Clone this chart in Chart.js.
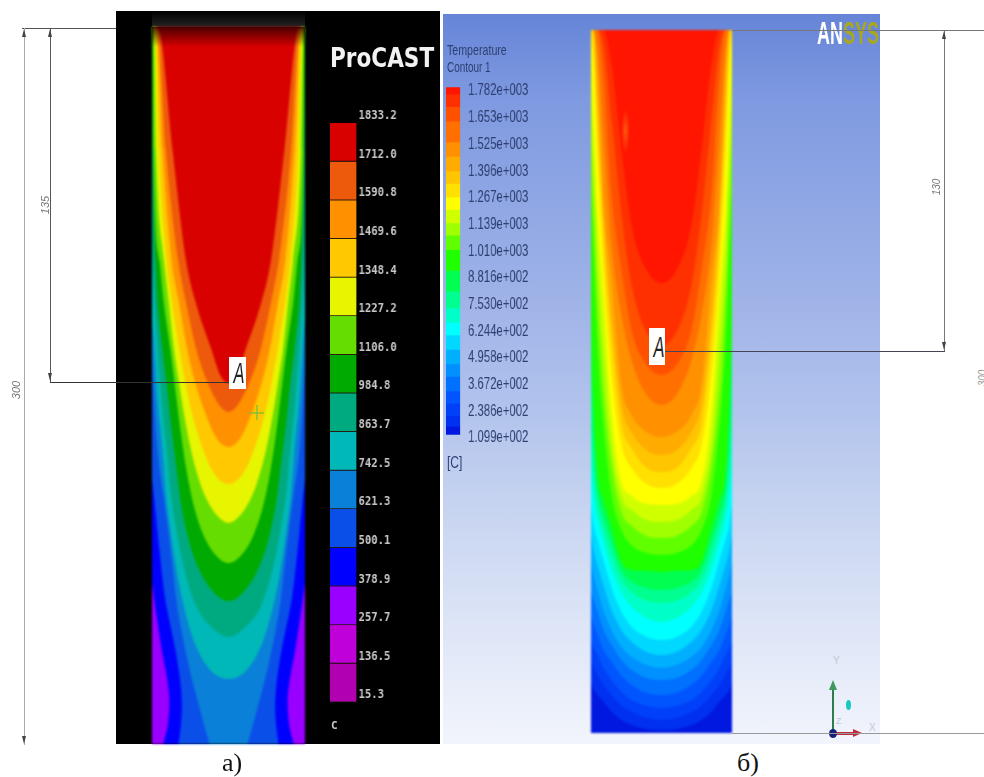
<!DOCTYPE html>
<html>
<head>
<meta charset="utf-8">
<title>ProCAST / ANSYS temperature fields</title>
<script src="https://cdn.jsdelivr.net/npm/chart.js@4"></script>
<style>
    html, body { margin: 0; padding: 0; background: #fff; overflow: hidden; }
    #page { position: relative; width: 984px; height: 777px; overflow: hidden; }
    #page > * { position: absolute; }
    canvas { display: block; }
    .rule { background: #555; }
    .txt { white-space: nowrap; line-height: 1; }
    .dim { font: italic 11px "Liberation Sans", sans-serif; color: #777; transform: translate(-50%, -50%) rotate(-90deg); }
    .ansys { font-family: "Liberation Sans", sans-serif; color: #2d3f70; transform: scaleX(0.71); transform-origin: 0 0; filter: blur(0.4px); }
    .cap { font: 26px "Liberation Serif", serif; color: #111; }
    .mark { background: #fff; color: #222; font: italic 30px "Liberation Sans", sans-serif; text-align: center; overflow: hidden; }
    .mark span { display: inline-block; transform: scaleX(0.55); }
    .up { width: 0; height: 0; border-left: 2px solid transparent; border-right: 2px solid transparent; border-bottom: 8px solid #444; }
    .down { width: 0; height: 0; border-left: 2px solid transparent; border-right: 2px solid transparent; border-top: 8px solid #444; }
</style>
</head>
<body>
<div id="page">
    <!-- panel a) -->
    <div style="left:116px;top:11px;width:324px;height:733px;background:#000"></div>
    <div style="left:152px;top:11px;width:153px;height:16px;background:linear-gradient(#000,#242424)"></div>
    <canvas id="procastField" style="left:152px;top:27px;filter:blur(0.8px)"></canvas>
    <div style="left:152px;top:27px;width:153px;height:20px;background:linear-gradient(rgba(50,0,0,0.85),rgba(120,0,0,0))"></div>
    <canvas id="procastLegend" style="left:330px;top:90.1px;transform:scaleX(0.85);transform-origin:0 0;filter:blur(0.4px)"></canvas>
    <div class="txt" style="left:330px;top:42px;font:bold 21.6px 'DejaVu Sans',sans-serif;color:#f2f2f2;transform:scaleY(1.25);transform-origin:0 0;filter:blur(0.5px)">ProCAST</div>
    <div class="txt" style="left:331px;top:719px;font:bold 11px 'DejaVu Sans Mono',monospace;color:#c8c8c8">C</div>

    <!-- panel б) -->
    <div style="left:443px;top:14px;width:437px;height:730px;background:linear-gradient(#6685d8 0%,#7f9ae0 12%,#9fb3e8 39%,#b0c2ec 53%,#c6d3f0 67%,#d8e1f5 80%,#f2f5fc 100%)"></div>
    <canvas id="ansysField" style="left:591px;top:30px;filter:blur(1.3px)"></canvas>
    <div style="left:621px;top:108px;width:9px;height:46px;background:radial-gradient(ellipse,rgba(255,130,20,0.6),rgba(255,110,0,0) 70%)"></div>
    <canvas id="ansysLegend" style="left:446px;top:49.4px;transform:scaleX(0.71);transform-origin:0 0;filter:blur(0.4px)"></canvas>
    <div class="txt ansys" style="left:447px;top:42px;font-size:15px">Temperature</div>
    <div class="txt ansys" style="left:447px;top:60px;font-size:14px">Contour 1</div>
    <div class="txt ansys" style="left:447px;top:454px;font-size:17px">[C]</div>
    <div class="txt" style="left:817px;top:16px;font:bold 31px 'Liberation Sans',sans-serif;transform:scaleX(0.58);transform-origin:0 0;filter:blur(0.5px)"><span style="color:#fff">AN</span><span style="color:#a8a820">SYS</span></div>

    <!-- triad -->
    <div style="left:832px;top:688px;width:2px;height:45px;background:#2f7d4a"></div>
    <div style="left:829px;top:680px;width:0;height:0;border-left:4px solid transparent;border-right:4px solid transparent;border-bottom:10px solid #3d9a5a"></div>
    <div style="left:833px;top:732px;width:22px;height:3px;background:#c02a3a"></div>
    <div style="left:853px;top:729px;width:0;height:0;border-top:4px solid transparent;border-bottom:4px solid transparent;border-left:9px solid #c02a3a"></div>
    <div style="left:829px;top:729px;width:8px;height:9px;border-radius:50%;background:#12207a"></div>
    <div style="left:846px;top:700px;width:5px;height:10px;border-radius:50%;background:#18c8c0"></div>
    <div class="txt" style="left:833px;top:655px;font:10px 'Liberation Sans',sans-serif;color:#c4c8d4">Y</div>
    <div class="txt" style="left:869px;top:722px;font:10px 'Liberation Sans',sans-serif;color:#c4c8d4">X</div>
    <div class="txt" style="left:836px;top:716px;font:9px 'Liberation Sans',sans-serif;color:#c4c8d4">Z</div>

    <!-- dimension lines a) -->
    <div class="rule" style="left:22px;top:28px;width:94px;height:1px"></div>
    <div class="rule" style="left:24px;top:28px;width:1px;height:717px;background:#aaa"></div>
    <div class="rule" style="left:50px;top:28px;width:1px;height:354px"></div>
    <div class="rule" style="left:50px;top:382px;width:179px;height:1px;background:#333"></div>
    <div class="up" style="left:22px;top:29px"></div>
    <div class="up" style="left:48px;top:29px"></div>
    <div class="down" style="left:48px;top:373px"></div>
    <div class="down" style="left:22px;top:736px"></div>
    <div class="txt dim" style="left:45px;top:205px">135</div>
    <div class="txt dim" style="left:16px;top:390px">300</div>
    <div class="mark" style="left:229px;top:357px;width:17px;height:32px;line-height:32px"><span>A</span></div>
    <div style="left:256px;top:405px;width:1.5px;height:15px;background:rgba(130,190,60,0.7)"></div>
    <div style="left:249px;top:412px;width:15px;height:1.5px;background:rgba(130,190,60,0.7)"></div>
    <div class="txt cap" style="left:222px;top:748px">а)</div>

    <!-- dimension lines б) -->
    <div class="rule" style="left:732px;top:30px;width:252px;height:1px;background:#777"></div>
    <div class="rule" style="left:732px;top:733px;width:252px;height:1px;background:#999"></div>
    <div class="rule" style="left:944px;top:30px;width:1px;height:321px;background:#777"></div>
    <div class="rule" style="left:664px;top:351px;width:281px;height:1px;background:#445"></div>
    <div class="up" style="left:942px;top:31px"></div>
    <div class="down" style="left:942px;top:342px"></div>
    <div class="txt dim" style="left:936px;top:187px;font-size:10px">130</div>
    <div class="txt dim" style="left:982px;top:378px;font-size:10px;color:#999">300</div>
    <div class="mark" style="left:649px;top:328px;width:16px;height:37px;line-height:37px"><span>A</span></div>
    <div class="txt cap" style="left:737px;top:748px">б)</div>
</div>

<script>
// --- panel a) ProCAST: isotherms as [half-width mm, depth mm], hottest first
const procast1712 = [[0,149],[3.3,146],[7.1,135],[14,114.2],[17.8,97.5],[23.4,51.5],[28.9,1.3],[30.1,0]];
const procast1590 = [[0,161],[4.2,157.7],[9.2,147.7],[13.4,135.1],[18,114.2],[21.1,97.5],[26.2,51.5],[29.5,1.3],[30.5,0]];
const procast1469 = [[0,175.7],[5,172],[10,160.7],[14.2,147.7],[17.2,135.1],[20.9,114.2],[23.8,97.5],[27.6,51.5],[30.1,1.3],[31,0]];
const procast1348 = [[0,191.2],[5.9,187],[10.9,176.1],[15.1,162.3],[18,149],[20.5,135.1],[23.8,114.2],[25.9,97.5],[29.1,51.5],[30.5,1.3],[31.4,0]];
const procast1227 = [[0,207.5],[5,204.2],[9,197.9],[11.9,190.8],[15.7,177],[18.4,163.2],[20.7,149],[22.8,135.1],[25.1,114.2],[27,97.5],[30.3,51.5],[31.2,1.3],[31.8,0]];
const procast1106 = [[0,224.3],[5.4,220.9],[10.5,212.5],[14.6,200],[17.6,185.4],[20.1,168.6],[22.2,151.9],[24.3,135.1],[27.2,114.2],[28.9,97.5],[31.4,51.5],[31.7,1.3],[32,0]];
const procast984 = [[0,240.2],[6.3,236.4],[12.6,226.4],[17.2,212.5],[20.1,197.9],[22.2,181.2],[24.3,164.4],[25.9,149],[27.6,135.1],[29.7,114.2],[30.5,97.5],[31.7,51.5],[32,13.8]];
const procast863 = [[0,255.2],[7.5,250.6],[13.8,241.8],[18.4,227.2],[21.8,210.5],[24.3,193.7],[25.9,177],[28,156.1],[29.3,139.3],[31,114.2],[32,93.3]];
const procast742 = [[0,272.8],[8.4,268.2],[14.6,256.5],[18.8,241.8],[21.8,227.2],[24.3,210.5],[26.2,195.8],[27.6,177],[29.7,156.1],[31,135.1],[32,122.6]];
const procast621 = [[0,323.4],[7.9,300],[13,281.6],[16.7,266.9],[19.7,252.3],[21.8,239.7],[23.4,225.9],[25.1,211.7],[27.2,195.8],[29.7,177],[31.4,151.9],[32,139.3]];
// these two bulge back towards the axis near the bottom face
const procast500 = [[0,336],[22.2,310.9],[20.9,300],[20,292.9],[19.5,284.5],[20.1,274.5],[22.2,260.7],[26.4,239.7],[28.9,218.8],[31,197.9],[32,189.5]];
const procast378 = [[0,336],[28.5,310.9],[27.2,300],[25.5,292.9],[24.7,281.6],[25.8,272],[27.9,260.7],[30,246.9],[32,232.6]];
const procastBase = [[0,300],[32,300]];

const procastIsotherms = [procast1712, procast1590, procast1469, procast1348, procast1227, procast1106,
    procast984, procast863, procast742, procast621, procast500, procast378, procastBase];

const procastLevels = [1833.2, 1712.0, 1590.8, 1469.6, 1348.4, 1227.2, 1106.0, 984.8, 863.7, 742.5, 621.3, 500.1, 378.9, 257.7, 136.5, 15.3];
const procastTickLabels = ['1833.2', '1712.0', '1590.8', '1469.6', '1348.4', '1227.2', '1106.0', '984.8', '863.7', '742.5', '621.3', '500.1', '378.9', '257.7', '136.5', '15.3'];
const procastColors = ['#d90000', '#ee5a0c', '#ff9000', '#ffc800', '#e8f500', '#66dd00', '#00aa00', '#00aa80', '#00b8b8', '#0a80d8', '#0a50e8', '#0000ff', '#9900ff', '#c000d8', '#b000b0'];

// --- panel б) ANSYS: depth mm of each isotherm at the shared half-widths, hottest first
const ansysHalfWidths = [0, 6.4, 12.8, 17.1, 21.3, 24.8, 27.3, 29, 30.3];
const ansysDepths = [
    [108,102.4,83.2,51.2,14.9,0,0,0,0],
    [134.4,128.9,108.8,78.9,38.4,6.4,0,0,0],
    [147.2,142.9,128,102.4,70.4,19.2,0,0,0],
    [160,155.7,140.8,121.6,91.7,44.8,8.5,0,0],
    [173.7,171.5,164.3,151.5,106.7,72.5,17.1,0,0],
    [181.3,179.2,171.5,160,123.7,79,29.9,0,0],
    [188.6,186.9,178.4,168.5,132.3,87.5,38.4,4.3,0],
    [195.4,193.7,186.9,177.1,147.2,102.4,55.5,14.9,0],
    [202.7,202.3,198.8,192.9,164.3,113.1,78.9,40.5,4.3],
    [209.9,209.1,204.8,199.3,177.1,134.4,98.1,57.6,25.6],
    [216.8,215.9,211.6,205.7,185.6,153.6,115.2,76.8,42.7],
    [224,223.2,219.8,213.4,198.4,168.5,134.4,96,64],
    [231.3,230.8,230.4,227,212.5,200.5,189.5,157.9,115.2],
    [239,238.1,235.5,230.4,218.5,207,196.3,174.9,140.8],
    [244.5,243.6,239.8,234.7,224.4,212.5,202.7,187.7,166.4],
    [252.6,250.9,246.2,240.2,230.4,218.5,209.1,198.4,183.5],
    [260.3,259,254.7,248.3,238.1,226.2,217.6,211.2,200.5],
    [266.7,265.4,261.1,256,247.5,236.8,228.3,221.9,213.4],
    [272.2,271,267.5,263.3,256,247.5,238.9,232.6,226.2],
    [277.4,276.5,273.1,268.8,262.4,256,248.3,243.2,239],
    [283.8,282.9,279.5,275.6,269.7,264.6,258.2,253.9,249.6],
    [289.3,288.4,285.9,282.5,277.4,272.2,266.7,263.7,260.3],
    [294.4,293.6,291,288.4,283.8,279.5,275.2,272.2,268.8],
    [298.7,298.3,296.6,294.4,291,286.7,283.8,281.6,278.2],
    [300,300,300,300,300,300,300,300,300]
];
const ansysTemps = [1750, 1690, 1620, 1520, 1450, 1380, 1320, 1255, 1195, 1130, 1070, 1000, 900, 800, 720, 650, 590, 520, 450, 390, 320, 260, 200, 150, 109.9];
const ansysColors = ['#ff1500', '#ff3000', '#ff5000', '#ff7000', '#ff9000', '#ffab00', '#ffc500', '#ffe000', '#ffff00', '#d0ff00', '#a0ff00', '#60ff00', '#20ff00', '#00ff50', '#00ff90', '#00ffc8', '#00ffff', '#00d8ff', '#00b0ff', '#0090ff', '#0070ff', '#0055ff', '#0040f8', '#0030f0', '#0018e0'];
const ansysLevels = [1782, 1653, 1525, 1396, 1267, 1139, 1010, 881.6, 753.0, 624.4, 495.8, 367.2, 238.6, 109.9];
const ansysTickLabels = ['1.782e+003', '1.653e+003', '1.525e+003', '1.396e+003', '1.267e+003', '1.139e+003', '1.010e+003', '8.816e+002', '7.530e+002', '6.244e+002', '4.958e+002', '3.672e+002', '2.386e+002', '1.099e+002'];

Chart.defaults.animation = false;
Chart.defaults.responsive = false;

/** Mirror a half profile about the axis of the casting */
function mirrored(pairs) {
    const right = pairs.map(([x, y]) => ({ x, y }));
    const left = pairs.slice(1).reverse().map(([x, y]) => ({ x: -x, y }));
    return left.concat(right);
}

/** Nested isotherms, each one filled up to the top of the casting */
function drawField(id, width, height, halfWidth, curves, colors) {
    const canvas = document.getElementById(id);
    canvas.width = width;
    canvas.height = height;
    return new Chart(canvas, {
        type: 'line',
        data: {
            datasets: curves.map((pairs, i) => {
                const sorted = pairs.every((p, k) => k === 0 || p[0] > pairs[k - 1][0]);
                return {
                    data: mirrored(pairs),
                    borderWidth: 0,
                    pointRadius: 0,
                    backgroundColor: colors[i],
                    fill: 'end',
                    cubicInterpolationMode: sorted ? 'monotone' : 'default',
                    tension: sorted ? 0 : 0.3
                };
            })
        },
        options: {
            layout: { padding: 0, autoPadding: false },
            plugins: { legend: { display: false }, tooltip: { enabled: false } },
            scales: {
                x: { type: 'linear', display: false, min: -halfWidth, max: halfWidth },
                y: { type: 'linear', display: false, reverse: true, min: 0, max: 300 }
            }
        }
    });
}

/** Colour bar: floating bars against a linear axis that carries the level labels */
function drawLegend(id, width, height, axisWidth, yMin, yMax, bands, levels, tickLabels, tick) {
    const canvas = document.getElementById(id);
    canvas.width = width;
    canvas.height = height;
    return new Chart(canvas, {
        type: 'bar',
        data: {
            labels: [''],
            datasets: bands.map(band => ({
                data: [[band.low, band.high]],
                backgroundColor: band.color,
                borderColor: tick.separator,
                borderWidth: tick.separator ? { bottom: 1 } : 0,
                borderSkipped: false,
                barPercentage: 1,
                categoryPercentage: 1
            }))
        },
        options: {
            layout: { padding: 0, autoPadding: false },
            plugins: { legend: { display: false }, tooltip: { enabled: false } },
            scales: {
                x: { display: false, stacked: true },
                y: {
                    position: 'right',
                    min: yMin,
                    max: yMax,
                    border: { display: false },
                    grid: { display: false, drawTicks: false },
                    afterBuildTicks: scale => { scale.ticks = levels.map(value => ({ value })); },
                    afterFit: scale => { scale.width = axisWidth; },
                    ticks: {
                        autoSkip: false,
                        padding: tick.padding,
                        labelOffset: tick.offset,
                        color: tick.color,
                        font: tick.font,
                        callback: (value, index) => tickLabels[index]
                    }
                }
            }
        }
    });
}

drawField('procastField', 153, 717, 32, procastIsotherms, procastColors);

const ansysCurves = ansysDepths.map(row => row.map((depth, i) => [ansysHalfWidths[i], depth]));
drawField('ansysField', 141, 703, 30.1, ansysCurves, ansysColors);

drawLegend('procastLegend', 129, 640, 98, -41.2, 1905.4,
    procastColors.map((color, i) => ({ low: procastLevels[i + 1], high: procastLevels[i], color })),
    procastLevels, procastTickLabels,
    { padding: 2.4, offset: -7, color: '#c8c8c8', separator: '#2a1a10',
      font: { family: '"DejaVu Sans Mono", monospace', weight: 'bold', size: 12.5 } });

drawLegend('ansysLegend', 140, 426, 120, 13.5, 1868.7,
    ansysColors.map((color, i) => ({ low: ansysTemps[i], high: i ? ansysTemps[i - 1] : 1782, color })),
    ansysLevels, ansysTickLabels,
    { padding: 11, offset: 3.5, color: '#2d3f70', separator: null,
      font: { family: '"Liberation Sans", sans-serif', size: 16 } });
</script>
</body>
</html>
